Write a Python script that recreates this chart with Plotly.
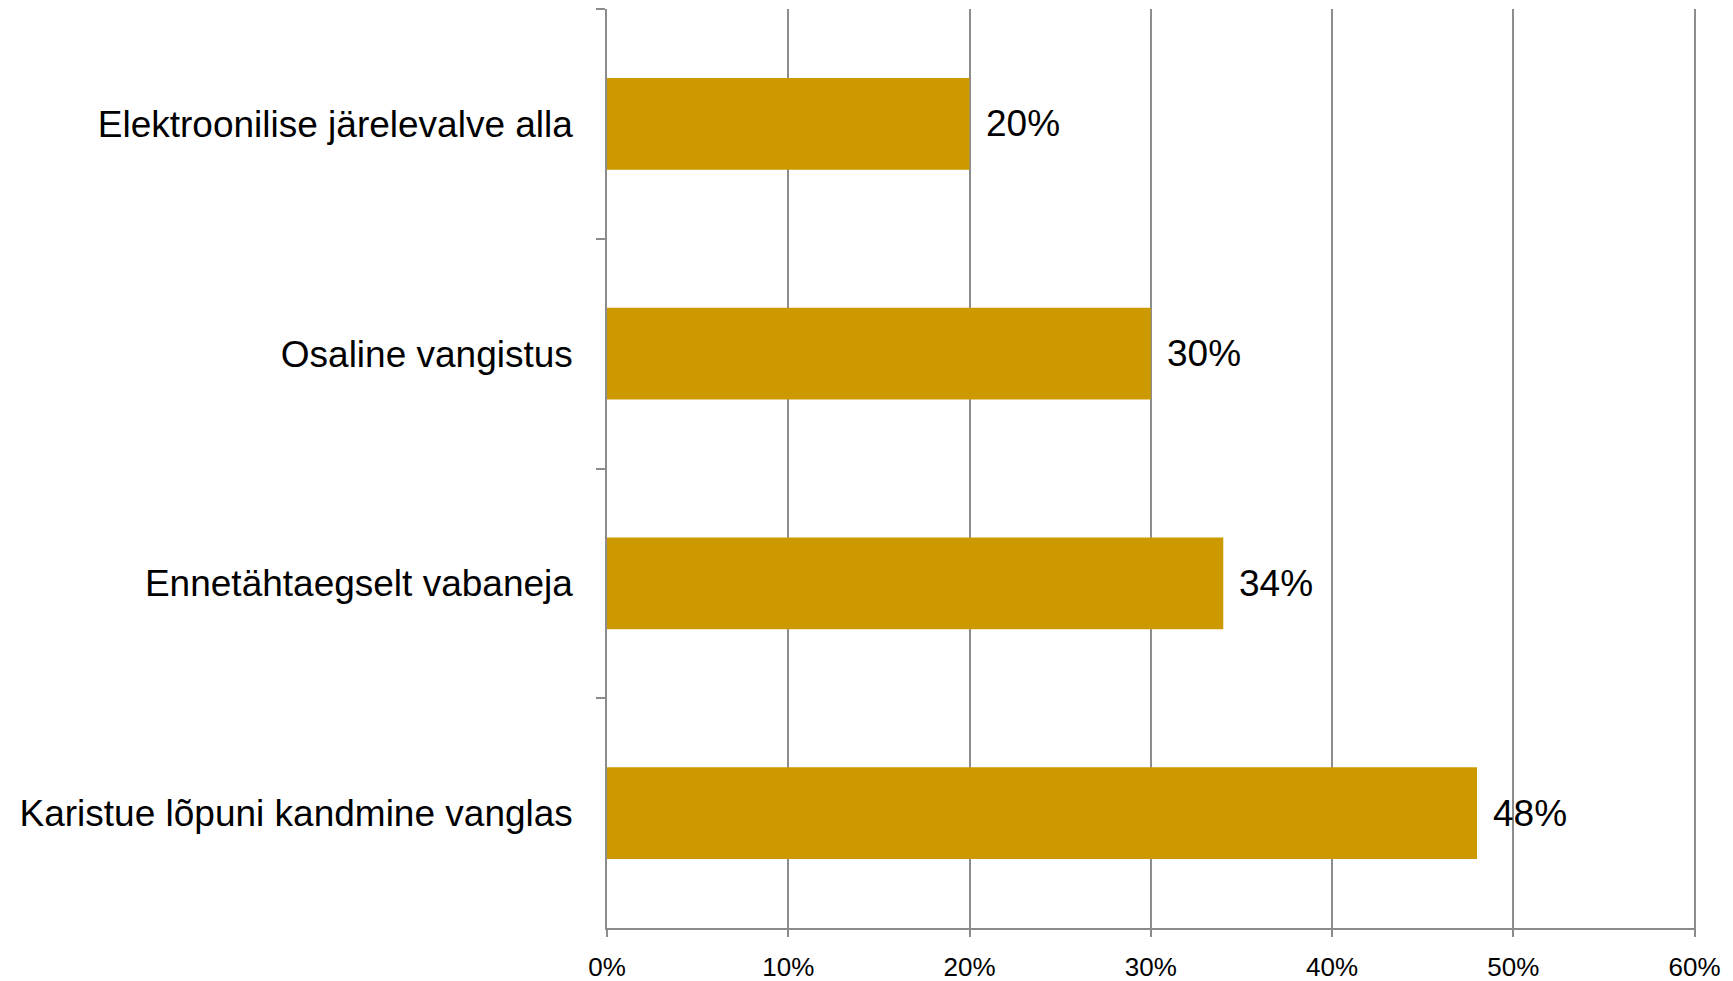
import plotly.graph_objects as go

categories = [
    "Elektroonilise järelevalve alla",
    "Osaline vangistus",
    "Ennetähtaegselt vabaneja",
    "Karistue lõpuni kandmine vanglas",
]
values = [20, 30, 34, 48]
x_ticks = [0, 10, 20, 30, 40, 50, 60]
x_tick_labels = ["0%", "10%", "20%", "30%", "40%", "50%", "60%"]
value_labels = [f"{v}%" for v in values]

FONT = "Liberation Sans, Arial, sans-serif"
GRID = "#8C8C8C"

fig = go.Figure(
    go.Bar(
        y=categories,
        x=values,
        orientation="h",
        marker=dict(color="#CC9900", line=dict(width=0)),
        width=0.4,
        hoverinfo="skip",
    )
)

for cat, v, lab in zip(categories, values, value_labels):
    fig.add_annotation(
        x=v, y=cat, text=lab, showarrow=False,
        xanchor="left", yanchor="middle", xshift=14,
        font=dict(family=FONT, size=37, color="#000000"),
    )

fig.update_layout(
    width=1725,
    height=973,
    margin=dict(l=599, r=37, t=1, b=53),
    paper_bgcolor="white",
    plot_bgcolor="white",
    showlegend=False,
    font=dict(family=FONT, color="#000000"),
)

fig.update_xaxes(
    range=[0, 60.08],
    tickvals=x_ticks,
    ticktext=x_tick_labels,
    showgrid=True,
    gridcolor=GRID,
    gridwidth=1.5,
    zeroline=False,
    showline=True,
    linecolor=GRID,
    linewidth=1.5,
    ticks="outside",
    ticklen=7,
    tickwidth=1.5,
    tickcolor=GRID,
    tickfont=dict(family=FONT, size=26, color="#000000"),
    ticklabelstandoff=8,
    automargin=False,
)

fig.update_yaxes(
    categoryorder="array",
    categoryarray=categories,
    autorange="reversed",
    showline=True,
    linecolor=GRID,
    linewidth=1.5,
    ticks="outside",
    tickson="boundaries",
    ticklen=9,
    tickcolor=GRID,
    tickwidth=1.5,
    showgrid=False,
    tickfont=dict(family=FONT, size=37, color="#000000"),
    ticklabelstandoff=25,
    automargin=False,
)

fig.write_html("out.html")
